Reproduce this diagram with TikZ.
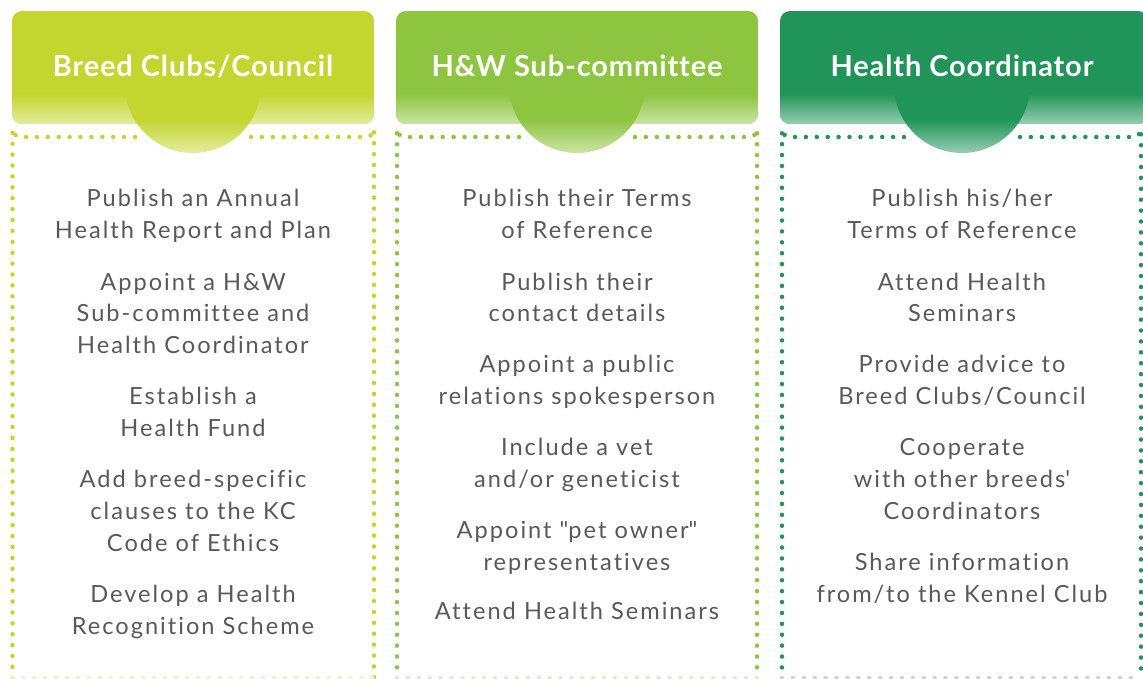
\documentclass[tikz,border=0pt]{standalone}
\usepackage{fontspec}
\setmainfont{Lato}[Ligatures={TeX,NoCommon}]
\newfontfamily\bodyfont{Lato}[Ligatures={TeX,NoCommon},LetterSpace=8.5]
\newfontfamily\headfont{Lato}[Ligatures={TeX,NoCommon},LetterSpace=3]
\definecolor{cA}{HTML}{C2D62F}
\definecolor{cB}{HTML}{8DC540}
\definecolor{cC}{HTML}{219559}
\definecolor{txt}{HTML}{58595B}
\begin{document}
\begin{tikzpicture}[x=1pt,y=-1pt,
  headtext/.style={font=\headfont\fontsize{29}{34}\selectfont\bfseries, text=white},
  linetext/.style={font=\bodyfont\fontsize{23.6}{28}\selectfont, text=txt, anchor=base, inner sep=0pt},
  dotline/.style={line width=4.5pt, line cap=round, dash pattern=on 0pt off 10.9pt},
]
\useasboundingbox (0,0) rectangle (1143,679);
\fill[white] (0,0) rectangle (1143,679);

% header builder
\newcommand{\headbox}[6]{% #1 left, #2 right, #3 colour, #4 name, #5 title, #6 centre x
  \begin{scope}
    \clip[rounded corners=10pt] (#1,11) rectangle (#2,124);
    \fill[#3] (#1,11) rectangle (#2,124);
    \shade[top color=#3, bottom color=#3!45!white] (#1,94) rectangle (#2,125);
  \end{scope}
  \begin{scope}
    \clip (#6,85) circle (68);
    \fill[#3] (#6-70,10) rectangle (#6+70,120);
    \shade[top color=#3, bottom color=#3!45!white] (#6-70,119.5) rectangle (#6+70,154);
  \end{scope}
  \node[headtext] (#4) at (#6,66) {#5};
}
\headbox{12}{374}{cA}{hA}{Breed Clubs/Council}{193}
\headbox{396}{758}{cB}{hB}{H\&W Sub-committee}{577}
\headbox{780}{1148}{cC}{hC}{Health Coordinator}{962}

% dotted frames
\newcommand{\dotframe}[4]{% #1 left, #2 right, #3 colour, #4 centre x
  \draw[dotline,#3] (#4-58,137) -- (#1+8,137) arc[start angle=90,end angle=180,radius=8] -- (#1,678);
  \draw[dotline,#3] (#4+58,137) -- (#2-8,137) arc[start angle=90,end angle=0,radius=8] -- (#2,678);
  \draw[dotline,#3!30!white] (#1,678) -- (#2,678);
}
\dotframe{12.5}{374}{cA}{193}
\dotframe{397}{757}{cB}{577}
\dotframe{782}{1141}{cC}{962}

% column 1
\foreach \y/\t [count=\i] in {207/{Publish an Annual}, 239/{Health Report and Plan},
  290/{Appoint a H\&W}, 321/{Sub-committee and}, 353/{Health Coordinator},
  404/{Establish a}, 436/{Health Fund},
  487/{Add breed-specific}, 519/{clauses to the KC}, 551/{Code of Ethics},
  602/{Develop a Health}, 634/{Recognition Scheme}}
  \node[linetext] (a\i) at (193,\y) {\t};
% column 2
\foreach \y/\t [count=\i] in {207/{Publish their Terms}, 239/{of Reference},
  290/{Publish their}, 321/{contact details},
  372/{Appoint a public}, 404/{relations spokesperson},
  455/{Include a vet}, 487/{and/or geneticist},
  538/{Appoint \textquotedbl pet owner\textquotedbl}, 570/{representatives},
  619/{Attend Health Seminars}}
  \node[linetext] (b\i) at (577,\y) {\t};
% column 3
\foreach \y/\t [count=\i] in {207/{Publish his/her}, 239/{Terms of Reference},
  290/{Attend Health}, 321/{Seminars},
  372/{Provide advice to}, 404/{Breed Clubs/Council},
  455/{Cooperate}, 487/{with other breeds\textquotesingle}, 519/{Coordinators},
  570/{Share information}, 602/{from/to the Kennel Club}}
  \node[linetext] (c\i) at (962,\y) {\t};
\end{tikzpicture}
\end{document}
